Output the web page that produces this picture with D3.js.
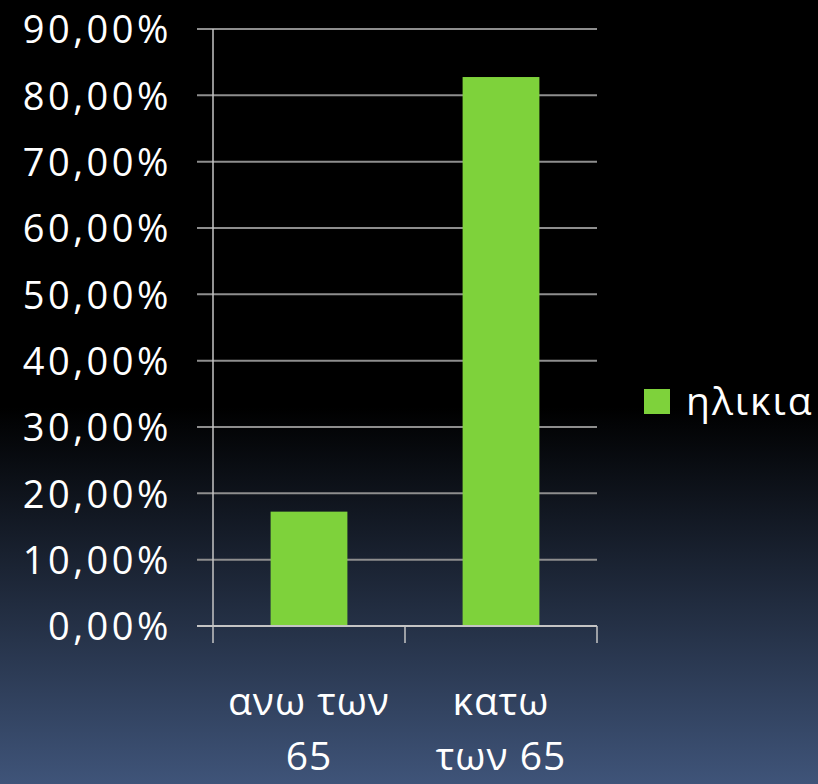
<!DOCTYPE html>
<html>
<head>
<meta charset="utf-8">
<script src="https://cdn.jsdelivr.net/npm/d3@7"></script>
<style>
  body { margin: 0; padding: 0; background: #000; }
  svg { display: block; }
</style>
</head>
<body>
<svg id="chart" width="818" height="784"></svg>
<script>
// bar chart: age split, single series
const categories = ["ανω των 65", "κατω των 65"];
const categoryLines = [["ανω των", "65"], ["κατω", "των 65"]];
const values = [0.1724, 0.8276];
const seriesName = "ηλικια";
const yTicks = [0, 0.1, 0.2, 0.3, 0.4, 0.5, 0.6, 0.7, 0.8, 0.9];

const W = 818, H = 784;
const plot = { left: 213, right: 597, top: 29, bottom: 626 };
const font = "'Open Sans', sans-serif";

const svg = d3.select("#chart");

// background gradient, black on top fading into slate blue
const defs = svg.append("defs");
const grad = defs.append("linearGradient")
  .attr("id", "bg").attr("x1", 0).attr("y1", 0).attr("x2", 0).attr("y2", 1);
grad.append("stop").attr("offset", "0").attr("stop-color", "#000");
grad.append("stop").attr("offset", "0.52").attr("stop-color", "#000");
grad.append("stop").attr("offset", "1").attr("stop-color", "#3f5479");
svg.append("rect").attr("width", W).attr("height", H).attr("fill", "url(#bg)");

const locale = d3.formatLocale({ decimal: ",", thousands: ".", grouping: [3], currency: ["", "€"] });
const fmt = locale.format(".2%");

const x = d3.scaleBand().domain(categories).range([plot.left, plot.right]).padding(0);
const y = d3.scaleLinear().domain([0, 0.9]).range([plot.bottom, plot.top]);

// gridlines
svg.append("g")
  .selectAll("line")
  .data(yTicks)
  .join("line")
  .attr("x1", plot.left - 16)
  .attr("x2", plot.right)
  .attr("y1", d => y(d))
  .attr("y2", d => y(d))
  .attr("stroke", "#8e8e8e")
  .attr("stroke-width", 2);

// y labels
svg.append("g")
  .selectAll("text")
  .data(yTicks)
  .join("text")
  .attr("x", 172)
  .attr("y", d => y(d) + 4)
  .attr("text-anchor", "end")
  .attr("dominant-baseline", "middle")
  .attr("fill", "#fff")
  .attr("font-family", font)
  .attr("font-size", "38px")
  .attr("letter-spacing", "3.5px")
  .text(d => fmt(d));

// bars
const barW = x.bandwidth() * 0.4;
svg.append("g")
  .selectAll("rect")
  .data(values)
  .join("rect")
  .attr("x", (d, i) => x(categories[i]) + (x.bandwidth() - barW) / 2)
  .attr("y", d => y(d))
  .attr("width", barW)
  .attr("height", d => y(0) - y(d))
  .attr("fill", "#7ed23b");

// axes lines
svg.append("line")
  .attr("x1", plot.left).attr("x2", plot.left)
  .attr("y1", plot.top).attr("y2", plot.bottom + 17)
  .attr("stroke", "#c4c4c4").attr("stroke-width", 1.5);
svg.append("line")
  .attr("x1", plot.left - 16).attr("x2", plot.right)
  .attr("y1", plot.bottom).attr("y2", plot.bottom)
  .attr("stroke", "#c4c4c4").attr("stroke-width", 2);
const boundaries = categories.map(c => x(c) + x.bandwidth());
svg.append("g")
  .selectAll("line")
  .data(boundaries)
  .join("line")
  .attr("x1", d => d).attr("x2", d => d)
  .attr("y1", plot.bottom).attr("y2", plot.bottom + 17)
  .attr("stroke", "#c4c4c4").attr("stroke-width", 1.5);

// category labels, two lines each
const catG = svg.append("g");
categoryLines.forEach((lines, i) => {
  const cx = x(categories[i]) + x.bandwidth() / 2;
  lines.forEach((t, j) => {
    catG.append("text")
      .attr("x", cx)
      .attr("y", 715 + j * 55)
      .attr("text-anchor", "middle")
      .attr("fill", "#fff")
      .attr("font-family", font)
      .attr("font-size", "39px")
      .attr("letter-spacing", "1px")
      .text(t);
  });
});

// legend
const legend = svg.append("g").attr("transform", "translate(644,389)");
legend.append("rect").attr("width", 26).attr("height", 25).attr("fill", "#7ed23b");
legend.append("text")
  .attr("x", 42)
  .attr("y", 26)
  .attr("fill", "#fff")
  .attr("font-family", font)
  .attr("font-size", "39px")
  .attr("letter-spacing", "2px")
  .text(seriesName);
</script>
</body>
</html>
